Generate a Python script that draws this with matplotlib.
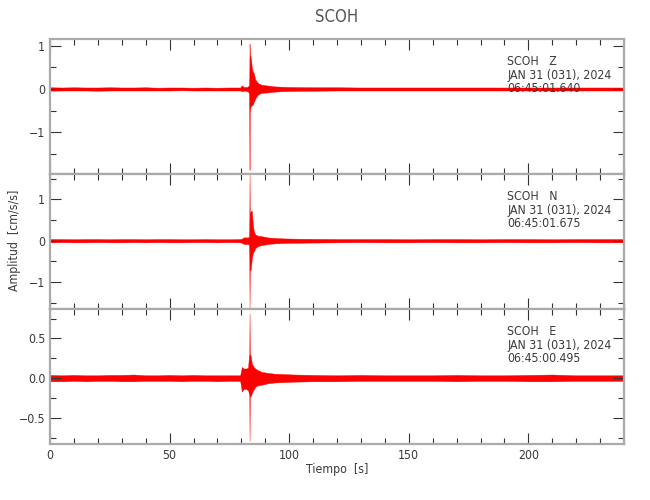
import matplotlib
matplotlib.use("Agg")
import matplotlib.pyplot as plt
from matplotlib.ticker import MultipleLocator

plt.rcParams['font.family'] = ['DejaVu Sans']
plt.rcParams['font.stretch'] = 'condensed'

# envelope of each trace (peak positive / negative amplitude) read from the record
time = [0, 5, 10, 15, 20, 25, 30, 35, 40, 45, 50, 55, 60, 65, 70, 75, 79.5,
        80.2, 81, 82, 82.8, 83.2, 83.32, 83.42, 83.52, 83.85, 84.4, 84.8, 85.2,
        85.8, 86.9, 88.3, 91, 94, 98, 102, 110, 120, 130, 140, 150, 160, 170,
        180, 190, 200, 210, 220, 230, 240]

z_upper = [0.04, 0.035, 0.04, 0.035, 0.035, 0.04, 0.035, 0.035, 0.04, 0.03, 0.035,
           0.035, 0.03, 0.035, 0.03, 0.035, 0.035,
           0.085, 0.045, 0.045, 0.06, 0.09, 0.30, 1.05, 0.80, 0.76, 0.49, 0.40,
           0.37, 0.22, 0.14, 0.10, 0.08, 0.06, 0.05, 0.045, 0.04, 0.04, 0.035,
           0.035, 0.035, 0.035, 0.035, 0.035, 0.035, 0.035, 0.035, 0.035, 0.035,
           0.035]
z_lower = [-0.04, -0.035, -0.035, -0.035, -0.04, -0.035, -0.035, -0.035, -0.035,
           -0.035, -0.035, -0.03, -0.035, -0.035, -0.035, -0.035, -0.035,
           -0.05, -0.04, -0.045, -0.06, -0.10, -0.94, -1.88, -0.55, -0.40, -0.38,
           -0.36, -0.30, -0.22, -0.13, -0.09, -0.08, -0.06, -0.05, -0.045, -0.04,
           -0.035, -0.035, -0.035, -0.035, -0.035, -0.035, -0.035, -0.035, -0.035,
           -0.035, -0.035, -0.035, -0.035]

n_upper = [0.04, 0.04, 0.035, 0.04, 0.04, 0.035, 0.04, 0.04, 0.035, 0.04, 0.04,
           0.035, 0.035, 0.04, 0.035, 0.035, 0.04,
           0.05, 0.08, 0.08, 0.08, 0.10, 0.40, 1.60, 0.55, 0.72, 0.72, 0.39, 0.23,
           0.15, 0.12, 0.11, 0.08, 0.065, 0.055, 0.05, 0.045, 0.04, 0.04, 0.04,
           0.035, 0.04, 0.04, 0.035, 0.04, 0.04, 0.035, 0.04, 0.04, 0.04]
n_lower = [-0.04, -0.035, -0.04, -0.04, -0.035, -0.04, -0.04, -0.035, -0.04,
           -0.035, -0.04, -0.04, -0.035, -0.035, -0.04, -0.035, -0.04,
           -0.05, -0.08, -0.08, -0.08, -0.10, -0.50, -1.62, -0.72, -0.71, -0.42,
           -0.30, -0.26, -0.18, -0.13, -0.11, -0.08, -0.065, -0.055, -0.05, -0.045,
           -0.04, -0.035, -0.04, -0.04, -0.035, -0.04, -0.04, -0.035, -0.04,
           -0.04, -0.035, -0.04, -0.04]

e_upper = [0.04, 0.035, 0.04, 0.035, 0.035, 0.04, 0.04, 0.045, 0.035, 0.035, 0.04,
           0.035, 0.04, 0.035, 0.035, 0.035, 0.035,
           0.14, 0.12, 0.12, 0.13, 0.29, 0.29, 0.81, 0.30, 0.29, 0.18, 0.16, 0.14,
           0.12, 0.10, 0.08, 0.065, 0.055, 0.05, 0.045, 0.04, 0.035, 0.04, 0.035,
           0.035, 0.035, 0.04, 0.035, 0.035, 0.04, 0.045, 0.035, 0.035, 0.035]
e_lower = [-0.04, -0.04, -0.035, -0.04, -0.035, -0.035, -0.04, -0.04, -0.035,
           -0.035, -0.035, -0.04, -0.035, -0.035, -0.04, -0.035, -0.035,
           -0.17, -0.135, -0.14, -0.15, -0.20, -0.22, -0.79, -0.23, -0.23, -0.19,
           -0.16, -0.14, -0.11, -0.09, -0.085, -0.065, -0.055, -0.05, -0.045,
           -0.04, -0.04, -0.035, -0.035, -0.035, -0.035, -0.04, -0.035, -0.035,
           -0.04, -0.04, -0.035, -0.035, -0.035]

components = ["Z", "N", "E"]
start_times = ["06:45:01.640", "06:45:01.675", "06:45:00.495"]
date_label = "JAN 31 (031), 2024"
station = "SCOH"

y_limits = [(-1.98, 1.15), (-1.66, 1.61), (-0.83, 0.868)]
y_ticks = [[-1, 0, 1], [-1, 0, 1], [-0.5, 0.0, 0.5]]
y_tick_labels = [["\u22121", "0", "1"], ["\u22121", "0", "1"], ["\u22120.5", "0.0", "0.5"]]
y_minor = [0.5, 0.5, 0.25]
x_ticks = [0, 50, 100, 150, 200]

uppers = [z_upper, n_upper, e_upper]
lowers = [z_lower, n_lower, e_lower]

text_color = '#3a3a3a'
frame_color = '#aaaaaa'
fs = 8.8

fig = plt.figure(figsize=(6.5, 5), dpi=100)
left, width = 0.077, 0.883
bottom0, h = 0.112, 0.2697

axes = []
for i in range(3):
    b = bottom0 + (2 - i) * h
    ax = fig.add_axes([left, b, width, h])
    axes.append(ax)
    ax.fill_between(time, lowers[i], uppers[i], color='red', linewidth=0.3,
                    edgecolor='red')
    ax.set_xlim(0, 240)
    ax.set_ylim(*y_limits[i])
    ax.set_yticks(y_ticks[i], labels=y_tick_labels[i])
    ax.yaxis.set_minor_locator(MultipleLocator(y_minor[i]))
    ax.set_xticks(x_ticks)
    ax.xaxis.set_minor_locator(MultipleLocator(10))
    ax.tick_params(which='both', direction='in', top=True, right=True,
                   color='#333333', width=0.8, labelsize=fs,
                   labelcolor=text_color, pad=3.5)
    ax.tick_params(which='major', length=8)
    ax.tick_params(which='minor', length=4)
    for sp in ax.spines.values():
        sp.set_color(frame_color)
        sp.set_linewidth(1.6)
    if i < 2:
        ax.tick_params(labelbottom=False)

    ax.text(0.7965, 0.833, f"{station}   {components[i]}", transform=ax.transAxes,
            fontsize=fs, color=text_color, va='center', ha='left')
    ax.text(0.7965, 0.733, date_label, transform=ax.transAxes,
            fontsize=fs, color=text_color, va='center', ha='left')
    ax.text(0.7965, 0.633, start_times[i], transform=ax.transAxes,
            fontsize=fs, color=text_color, va='center', ha='left')

fig.text(0.5185, 0.966, station, ha='center', va='center', fontsize=12,
         color='#555555')
fig.text(0.5185, 0.06, "Tiempo  [s]", ha='center', va='center', fontsize=fs,
         color=text_color)
fig.text(0.022, 0.52, "Amplitud  [cm/s/s]", ha='center', va='center',
         rotation=90, fontsize=fs, color=text_color)

fig.savefig("out.png", dpi=100)
